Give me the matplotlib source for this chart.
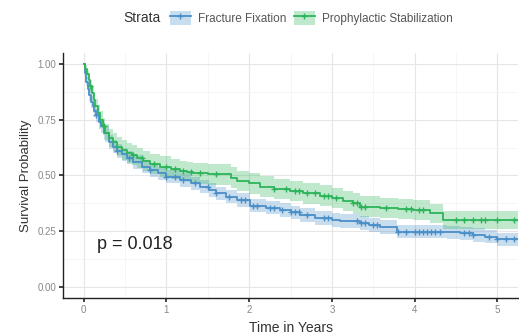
# Kaplan-Meier survival curves: fracture fixation vs prophylactic stabilization
import numpy as np
import matplotlib.pyplot as plt
from matplotlib.lines import Line2D
from matplotlib.patches import Patch

plt.rcParams['font.family'] = ['Liberation Sans', 'DejaVu Sans']

groups = ['Fracture Fixation', 'Prophylactic Stabilization']
colors = ['#4a8fc8', '#2db45a']

# Fracture fixation (blue)
t_fix = [0, 0.01, 0.03, 0.05, 0.07, 0.09, 0.11, 0.13, 0.15, 0.18, 0.21, 0.25, 0.30, 0.35,
         0.40, 0.46, 0.52, 0.60, 0.71, 0.80, 0.90, 1.0, 1.16, 1.3, 1.4, 1.52, 1.6, 1.72,
         1.85, 2.01, 2.2, 2.37, 2.5, 2.61, 2.8, 3.0, 3.10, 3.34, 3.45, 3.58, 3.78, 4.39,
         4.55, 4.70, 4.85, 4.99, 5.25]
s_fix = [1.0, 0.96, 0.92, 0.89, 0.86, 0.83, 0.81, 0.79, 0.77, 0.74, 0.72, 0.69, 0.65, 0.63,
         0.61, 0.595, 0.58, 0.56, 0.54, 0.525, 0.51, 0.495, 0.48, 0.465, 0.45, 0.435, 0.42, 0.405,
         0.39, 0.365, 0.355, 0.345, 0.335, 0.323, 0.31, 0.30, 0.295, 0.286, 0.278, 0.268, 0.248, 0.245,
         0.24, 0.233, 0.225, 0.214, 0.214]
ci_fix = [0.0, 0.015, 0.02, 0.022, 0.025, 0.027, 0.028, 0.029, 0.03, 0.03, 0.03, 0.03, 0.03, 0.03,
          0.03, 0.03, 0.03, 0.03, 0.03, 0.03, 0.03, 0.03, 0.03, 0.03, 0.03, 0.03, 0.03, 0.03,
          0.03, 0.03, 0.03, 0.03, 0.03, 0.03, 0.03, 0.03, 0.03, 0.03, 0.03, 0.03, 0.03, 0.03,
          0.03, 0.03, 0.03, 0.03, 0.03]
cens_fix = [0.15, 0.4, 0.55, 0.8, 1.0, 1.1, 1.2, 1.35, 1.5, 1.6, 1.75, 1.9, 1.95, 2.05, 2.1,
            2.25, 2.3, 2.4, 2.5, 2.55, 2.6, 2.7, 2.9, 2.95, 3.3, 3.35, 3.4, 3.5, 3.55, 3.8,
            3.9, 4.0, 4.05, 4.1, 4.15, 4.2, 4.25, 4.3, 4.6, 4.65, 4.7, 4.9, 5.0, 5.1, 5.2]

# Prophylactic stabilization (green)
t_pro = [0, 0.02, 0.04, 0.06, 0.08, 0.10, 0.12, 0.14, 0.17, 0.20, 0.23, 0.26, 0.30, 0.35,
         0.40, 0.46, 0.52, 0.58, 0.64, 0.72, 0.80, 0.92, 1.05, 1.16, 1.25, 1.32, 1.50, 1.78,
         1.85, 2.0, 2.13, 2.3, 2.49, 2.65, 2.85, 3.0, 3.13, 3.25, 3.34, 3.58, 3.8, 3.98,
         4.18, 4.34, 5.25]
s_pro = [1.0, 0.98, 0.955, 0.93, 0.90, 0.87, 0.84, 0.81, 0.78, 0.75, 0.72, 0.69, 0.67, 0.65,
         0.63, 0.615, 0.60, 0.59, 0.58, 0.565, 0.55, 0.54, 0.53, 0.52, 0.515, 0.51, 0.505, 0.49,
         0.475, 0.465, 0.45, 0.44, 0.43, 0.42, 0.41, 0.40, 0.385, 0.375, 0.36, 0.353, 0.35, 0.345,
         0.33, 0.30, 0.30]
ci_pro = [0.0, 0.015, 0.02, 0.025, 0.028, 0.03, 0.032, 0.034, 0.036, 0.038, 0.04, 0.04, 0.04, 0.042,
          0.042, 0.044, 0.044, 0.045, 0.045, 0.045, 0.045, 0.046, 0.046, 0.046, 0.046, 0.046, 0.046, 0.046,
          0.046, 0.046, 0.046, 0.046, 0.046, 0.046, 0.046, 0.046, 0.046, 0.046, 0.046, 0.046, 0.046, 0.046,
          0.043, 0.04, 0.04]
cens_pro = [0.08, 0.25, 0.6, 0.7, 0.85, 1.0, 1.1, 1.2, 1.3, 1.4, 1.6, 2.3, 2.45, 2.55, 2.6, 2.7,
            2.8, 2.9, 2.95, 3.05, 3.25, 3.3, 3.35, 3.4, 3.65, 3.9, 3.95, 4.05, 4.1, 4.5, 4.6,
            4.7, 4.8, 4.85, 5.0, 5.2]

x_ticks = [0, 1, 2, 3, 4, 5]
y_ticks = [0.0, 0.25, 0.5, 0.75, 1.0]
y_labels = ['0.00', '0.25', '0.50', '0.75', '1.00']
p_text = 'p = 0.018'

fig = plt.figure(figsize=(5.19, 3.33), dpi=100)
ax = fig.add_axes([0.1214, 0.105, 0.877, 0.736])

series = [(t_fix, s_fix, ci_fix, cens_fix), (t_pro, s_pro, ci_pro, cens_pro)]
for (t, s, ci, cens), col in zip(series, colors):
    t = np.array(t); s = np.array(s); ci = np.array(ci)
    ax.fill_between(t, np.clip(s - ci, 0, 1), np.clip(s + ci, 0, 1), step='post',
                    color=col, alpha=0.3, lw=0)
    ax.step(t, s, where='post', color=col, lw=1.3)
    idx = np.searchsorted(t, cens, side='right') - 1
    ax.plot(cens, s[idx], ls='none', marker='+', ms=5, mew=1.0, color=col)

ax.text(0.16, 0.19, p_text, fontsize=13, color='#222222', va='center')

ax.set_xlim(-0.25, 5.25)
ax.set_ylim(-0.05, 1.05)
ax.set_xticks(x_ticks)
ax.set_xticks(np.arange(0.5, 5.5, 1), minor=True)
ax.set_yticks(y_ticks)
ax.set_yticklabels(y_labels)
ax.set_yticks([0.125, 0.375, 0.625, 0.875], minor=True)
ax.grid(which='major', color='#e6e6e6', lw=0.8)
ax.grid(which='minor', color='#f1f1f1', lw=0.5)
ax.set_axisbelow(True)
for side in ['top', 'right']:
    ax.spines[side].set_visible(False)
for side in ['left', 'bottom']:
    ax.spines[side].set_color('#222222')
    ax.spines[side].set_linewidth(1.0)
ax.tick_params(which='major', length=3, width=1.2, color='#222222', labelsize=7,
               labelcolor='#888888', pad=2)
ax.tick_params(which='minor', length=0)
ax.set_xlabel('Time in Years', fontsize=10, color='#333333', labelpad=4)
ax.set_ylabel('Survival Probability', fontsize=9.5, color='#333333', labelpad=4)

handles = [(Patch(facecolor=c, alpha=0.3, lw=0),
            Line2D([], [], color=c, lw=1.3, marker='+', ms=5)) for c in colors]
fig.text(0.237, 0.946, 'Strata', fontsize=10, color='#333333', va='center')
fig.legend(handles, groups, loc='center left', bbox_to_anchor=(0.327, 0.946), ncol=2,
           frameon=False, fontsize=8.5, handlelength=1.8, handleheight=1.4,
           columnspacing=0.6, handletextpad=0.6, borderpad=0, borderaxespad=0,
           labelcolor='#555555')

fig.savefig('out.png', dpi=100)
